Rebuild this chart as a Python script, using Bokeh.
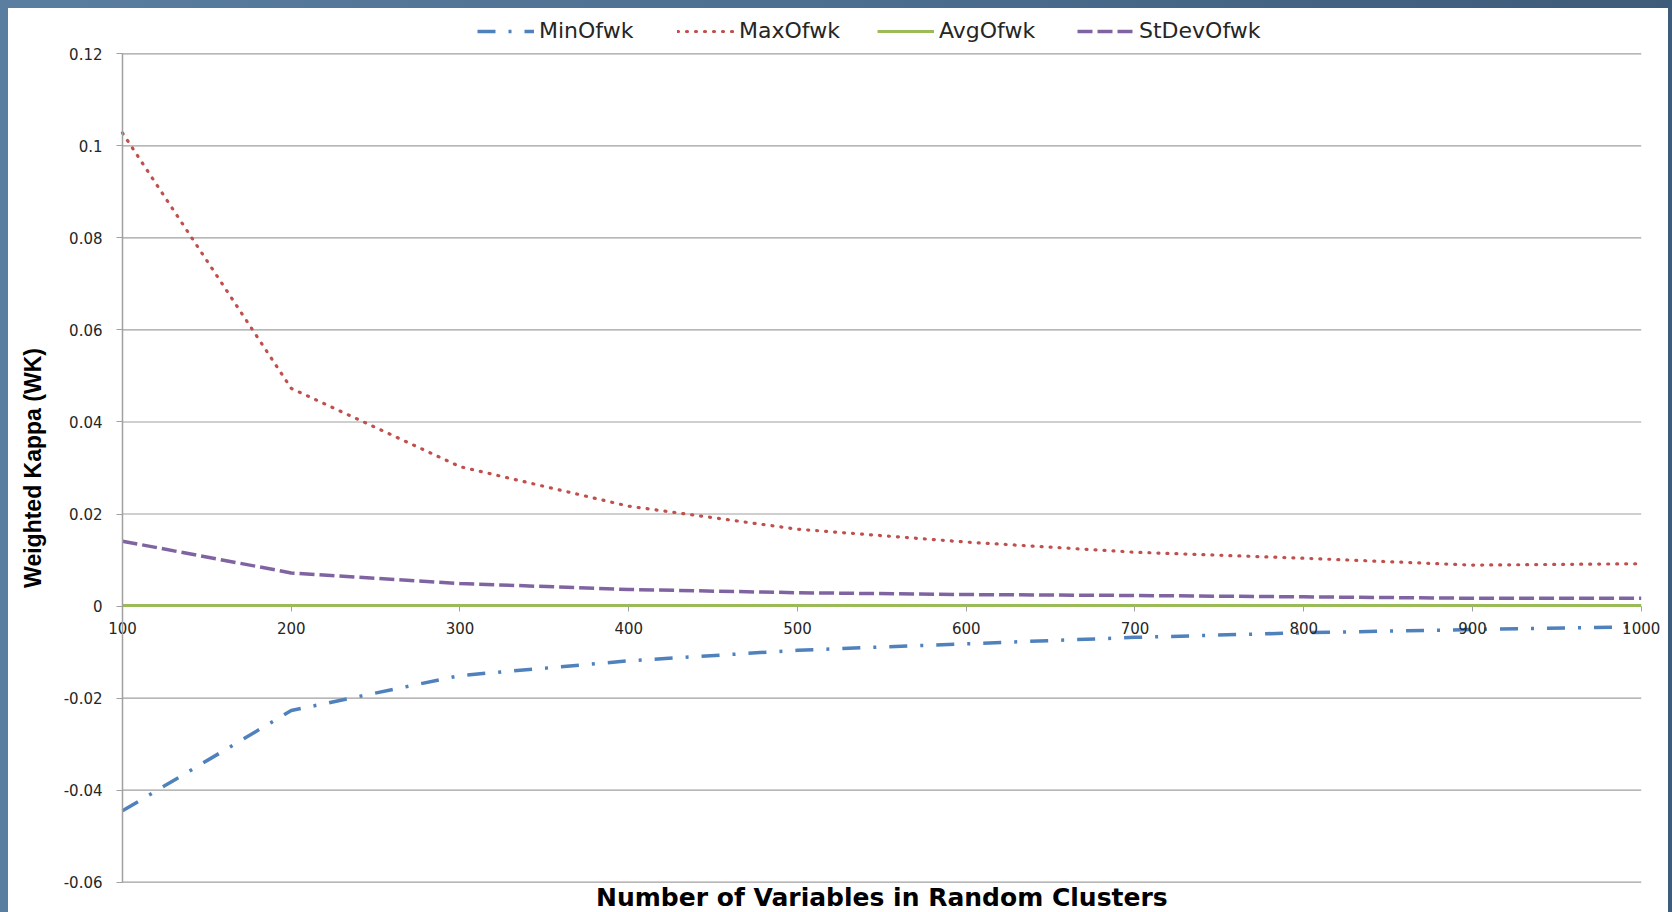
from bokeh.plotting import figure
from bokeh.models import (Range1d, FixedTicker, NumeralTickFormatter,
                          Legend, LegendItem, GlobalInlineStyleSheet, Label)
from bokeh.embed import file_html
from bokeh.resources import INLINE

# ---------------- data ----------------
x_vars = [100, 200, 300, 400, 500, 600, 700, 800, 900, 1000]
min_wk = [-0.0445, -0.0227, -0.0151, -0.0119, -0.0096, -0.0082, -0.0068, -0.0058, -0.0051, -0.0045]
max_wk = [0.1028, 0.0473, 0.0303, 0.0217, 0.0167, 0.0139, 0.0117, 0.0104, 0.0089, 0.0092]
avg_wk = [0.0001, 0.0001, 0.0001, 0.0001, 0.0001, 0.0001, 0.0001, 0.0001, 0.0001, 0.0001]
std_wk = [0.0141, 0.0072, 0.0049, 0.0036, 0.0029, 0.0025, 0.0023, 0.0020, 0.0017, 0.0017]

series_names = ["MinOfwk", "MaxOfwk", "AvgOfwk", "StDevOfwk"]
x_ticks = [100, 200, 300, 400, 500, 600, 700, 800, 900, 1000]
y_ticks = [-0.06, -0.04, -0.02, 0, 0.02, 0.04, 0.06, 0.08, 0.1, 0.12]
x_title = "Number of Variables in Random Clusters"
y_title = "Weighted Kappa (WK)"

GRID = "#a0a0a0"
TEXT = "#262626"

W, H = 1660, 904
# data window of the axes (100..1000, -0.06..0.12) inside a full-size frame,
# leaving room around it for the axis texts and the legend
plot_left, plot_right, plot_top, plot_bottom = 114, 1632.7, 45.3, 873.7
xs = (x_ticks[-1] - x_ticks[0]) / (plot_right - plot_left)
ys = (y_ticks[-1] - y_ticks[0]) / (plot_bottom - plot_top)
x_range = Range1d(x_ticks[0] - plot_left * xs, x_ticks[-1] + (W - plot_right) * xs)
y_range = Range1d(y_ticks[0] - (H - plot_bottom) * ys, y_ticks[-1] + plot_top * ys)

p = figure(width=W, height=H, output_backend="svg", toolbar_location=None,
           x_range=x_range, y_range=y_range,
           min_border_left=0, min_border_right=0, min_border_top=0,
           min_border_bottom=0, background_fill_color="white",
           border_fill_color="white")
p.outline_line_color = None

# page frame (blue strips around the chart)
p.stylesheets = [GlobalInlineStyleSheet(css=(
    "html{background:linear-gradient(90deg,#5a7ea0 0%,#4c6e8f 50%,#3e5b79 100%);"
    "height:100%;overflow:hidden;}"
    "body{margin:8px 4px 0 8px !important;background:#ffffff;overflow:hidden;}"))]

# ---- horizontal gridlines, only across the data window ----
p.xgrid.grid_line_color = None
p.ygrid.grid_line_color = None
p.segment(x0=[x_ticks[0]] * len(y_ticks), x1=[x_ticks[-1]] * len(y_ticks),
          y0=y_ticks, y1=y_ticks, line_color=GRID, line_width=1.2)

# ---- y axis at x = 100 ----
yax = p.yaxis[0]
yax.fixed_location = x_ticks[0]
yax.bounds = (y_ticks[0], y_ticks[-1])
yax.ticker = FixedTicker(ticks=y_ticks)
yax.formatter = NumeralTickFormatter(format="0.[00]")
yax.axis_line_color = GRID
yax.axis_line_width = 1.5
yax.major_tick_line_color = GRID
yax.major_tick_in = 0
yax.major_tick_out = 6
yax.minor_tick_line_color = None
yax.major_label_standoff = 14
yax.major_label_text_font = "DejaVu Sans"
yax.major_label_text_font_size = "15px"
yax.major_label_text_color = TEXT
yax.axis_label = y_title
yax.axis_label_text_font = "Liberation Sans"
yax.axis_label_text_font_style = "bold"
yax.axis_label_text_font_size = "23px"
yax.axis_label_text_color = "black"
yax.axis_label_standoff = 15

# ---- x axis crossing at y = 0 ----
xax = p.xaxis[0]
xax.fixed_location = 0
xax.bounds = (x_ticks[0], x_ticks[-1])
xax.ticker = FixedTicker(ticks=x_ticks)
xax.axis_line_color = None
xax.major_tick_line_color = GRID
xax.major_tick_in = 0
xax.major_tick_out = 5
xax.minor_tick_line_color = None
xax.major_label_standoff = 11
xax.major_label_text_font = "DejaVu Sans"
xax.major_label_text_font_size = "15px"
xax.major_label_text_color = TEXT

# ---- x title, centred under the axis ----
p.add_layout(Label(x=(x_ticks[0] + x_ticks[-1]) / 2, y=15, x_units="data", y_units="screen",
                   text=x_title, text_align="center", text_baseline="middle",
                   text_font="DejaVu Sans", text_font_style="bold",
                   text_font_size="25px", text_color="black"))

# ---- series ----
r_min = p.line(x_vars, min_wk, line_color="#4f81bd", line_width=3.5, line_dash="18 13 3 13")
r_max = p.line(x_vars, max_wk, line_color="#c0504d", line_width=3.2, line_dash="1 8",
               line_cap="round")
r_avg = p.line(x_vars, avg_wk, line_color="#9bbb59", line_width=3)
r_std = p.line(x_vars, std_wk, line_color="#8064a2", line_width=3.5, line_dash="15 5")

legend = Legend(items=[LegendItem(label=n, renderers=[r]) for n, r in
                       zip(series_names, [r_min, r_max, r_avg, r_std])],
                orientation="horizontal", location=(469, 869),
                label_text_font="DejaVu Sans", label_text_font_size="22px",
                label_text_color=TEXT, glyph_width=57, glyph_height=20,
                label_standoff=5, label_width=110, spacing=28,
                padding=0, margin=0, border_line_color=None,
                background_fill_alpha=0)
p.add_layout(legend, "center")

open("out.html", "w").write(file_html(p, INLINE))
